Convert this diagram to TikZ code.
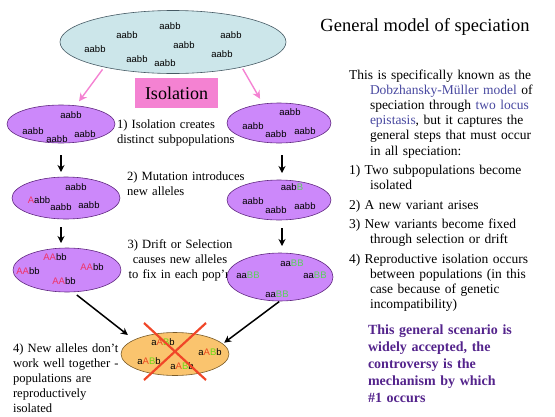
\documentclass[tikz,border=0pt]{standalone}
\usepackage{fontspec}
\setmainfont{Liberation Serif}
\newfontfamily\genofont{Liberation Sans}
\usepackage{xcolor}
\usepackage{tikz}
\usetikzlibrary{arrows.meta,shapes.geometric}
\definecolor{popblue}{RGB}{204,230,234}
\definecolor{blueline}{RGB}{70,90,100}
\definecolor{popviolet}{RGB}{204,136,250}
\definecolor{violetline}{RGB}{96,40,128}
\definecolor{hybridorange}{RGB}{250,196,110}
\definecolor{orangeline}{RGB}{120,90,40}
\definecolor{isopink}{RGB}{244,130,210}
\definecolor{alleleA}{RGB}{240,50,100}
\definecolor{alleleB}{RGB}{90,210,90}
\definecolor{hybA}{RGB}{235,70,30}
\definecolor{hybB}{RGB}{110,220,20}
\definecolor{crossred}{RGB}{240,70,40}
\definecolor{linkblue}{RGB}{72,72,160}
\definecolor{notepurple}{RGB}{84,36,140}
\newcommand{\newA}{\textcolor{alleleA}{A}}
\newcommand{\newB}{\textcolor{alleleB}{B}}
\newcommand{\hyA}{\textcolor{hybA}{A}}
\newcommand{\hyB}{\textcolor{hybB}{B}}
\newcommand{\hang}{\hangindent=21pt\hangafter=1\relax}

\begin{document}
\begin{tikzpicture}[x=1pt, y=-1pt, every node/.style={inner sep=0pt, outer sep=0pt},
		pop/.style={ellipse, draw=violetline, fill=popviolet, line width=0.6pt},
		geno/.style={font=\genofont\fontsize{9.5}{10}\selectfont},
		steptext/.style={anchor=base west, text width=130pt, align=left, font=\fontsize{12.6}{15}\selectfont},
		downarrow/.style={-{Stealth[length=7pt,width=7pt]}, line width=1.4pt},
		pinkarrow/.style={-{Stealth[length=8pt,width=8pt]}, line width=1.4pt, isopink}]
	\useasboundingbox (0,0) rectangle (555,416);
	\node[font=\fontsize{18.5}{20}\selectfont] (title) at (425,27) {General model of speciation};
	% explanation on the right
	\node[anchor=base west, text width=200pt, align=left, font=\fontsize{13.5}{15.2}\selectfont] (expl) at (349,79)
		{\parskip=4.2pt\hang This is specifically known as the\newline
		\textcolor{linkblue}{Dobzhansky-Müller model} of\newline
		speciation through \textcolor{linkblue}{two locus}\newline
		\textcolor{linkblue}{epistasis}, but it captures the\newline
		general steps that must occur\newline
		in all speciation:\par
		\hang 1) Two subpopulations become\newline isolated\par
		\hang 2) A new variant arises\par
		\hang 3) New variants become fixed\newline through selection or drift\par
		\hang 4) Reproductive isolation occurs\newline between populations (in this\newline case because of genetic\newline incompatibility)\par};
	\node[anchor=base west, text width=180pt, align=left, text=notepurple, font=\bfseries\fontsize{14}{17}\selectfont] (remark) at (368,334)
		{This general scenario is\\ widely accepted, the\\ controversy is the\\ mechanism by which\\ \#1 occurs};
	% step texts
	\node[steptext] (s1) at (117,128) {1) Isolation creates\\distinct subpopulations};
	\node[steptext] (s2) at (127,180) {2) Mutation introduces\\new alleles};
	\node[steptext, text width=120pt, anchor=base, align=center] (s3) at (180,248) {3) Drift or Selection\\causes new alleles\\to fix in each pop’n};
	\node[steptext] (s4) at (13,352) {4) New alleles don’t\\work well together -\\populations are\\reproductively\\isolated};
	% populations
	\node[ellipse, draw=blueline, fill=popblue, line width=0.6pt, minimum width=226pt, minimum height=63pt] (top) at (173,42) {};
	\node[pop, minimum width=108pt, minimum height=38pt] (L1) at (61,124) {};
	\node[pop, minimum width=104pt, minimum height=40pt] (R1) at (279,123) {};
	\node[pop, minimum width=108pt, minimum height=42pt] (L2) at (66,198) {};
	\node[pop, minimum width=104pt, minimum height=40pt] (R2) at (279,200) {};
	\node[pop, minimum width=108pt, minimum height=44pt] (L3) at (67,270) {};
	\node[pop, minimum width=106pt, minimum height=48pt] (R3) at (280,277) {};
	\node[ellipse, draw=orangeline, fill=hybridorange, line width=0.6pt, minimum width=108pt, minimum height=43pt] (B) at (175,354) {};
	\foreach \x/\y [count=\i] in {170/26,127/35,231/35,95/49,184/45,222/54,137/59,165/63}
		\node[geno] (t\i) at (\x,\y) {aabb};
	\foreach \x/\y [count=\i] in {71/115,33/131,57/139,85/134}
		\node[geno] (l1g\i) at (\x,\y) {aabb};
	\foreach \x/\y [count=\i] in {290/112,253/126,276/134,305/131}
		\node[geno] (r1g\i) at (\x,\y) {aabb};
	\foreach \x/\y/\g [count=\i] in {76/187/aabb,39/200/\newA abb,61/207/aabb,89/205/aabb}
		\node[geno] (l2g\i) at (\x,\y) {\g};
	\foreach \x/\y/\g [count=\i] in {292/187/aab\newB,253/201/aabb,276/210/aabb,305/206/aabb}
		\node[geno] (r2g\i) at (\x,\y) {\g};
	\foreach \x/\y [count=\i] in {55/257,28/271,92/267,64/281}
		\node[geno] (l3g\i) at (\x,\y) {\newA\newA bb};
	\foreach \x/\y [count=\i] in {292/263,248/275,315/275,277/294}
		\node[geno] (r3g\i) at (\x,\y) {aa\newB\newB};
	\foreach \x/\y [count=\i] in {163/342,210/352,149/361,182/366}
		\node[geno] (bg\i) at (\x,\y) {a\hyA\hyB b};
	\node[fill=isopink, minimum width=83pt, minimum height=30pt, font=\fontsize{18}{18}\selectfont] (iso) at (176.5,93) {Isolation};
	% arrows
	\draw[pinkarrow, shorten <=3pt, shorten >=5.5pt] (top.200) -- (L1.51);
	\draw[pinkarrow, shorten <=2pt, shorten >=6pt] (top.340) -- (R1.130);
	\draw[downarrow, shorten <=12pt, shorten >=5pt] (L1.south) -- (L1.south |- L2.north);
	\draw[downarrow, shorten <=8pt, shorten >=5pt] (L1.south |- L2.south) -- (L1.south |- L3.north);
	\draw[downarrow, shorten <=12pt, shorten >=7pt] ([xshift=3pt]R1.south) -- ([xshift=3pt]R1.south |- R2.north);
	\draw[downarrow, shorten <=8pt, shorten >=7pt] ([xshift=3pt]R1.south |- R2.south) -- ([xshift=3pt]R1.south |- R3.north);
	\draw[downarrow, line width=1.5pt, shorten <=5pt, shorten >=8pt] (L3.285) -- (B.161);
	\draw[downarrow, line width=1.5pt, shorten <=1pt, shorten >=2pt] (R3.south) -- (B.12);
	% incompatible hybrids
	\draw[crossred, line width=2.2pt] (B.center) ++(0,-3) +(-31,-28) -- +(31,29) +(31,-28) -- +(-31,29);
\end{tikzpicture}
\end{document}
